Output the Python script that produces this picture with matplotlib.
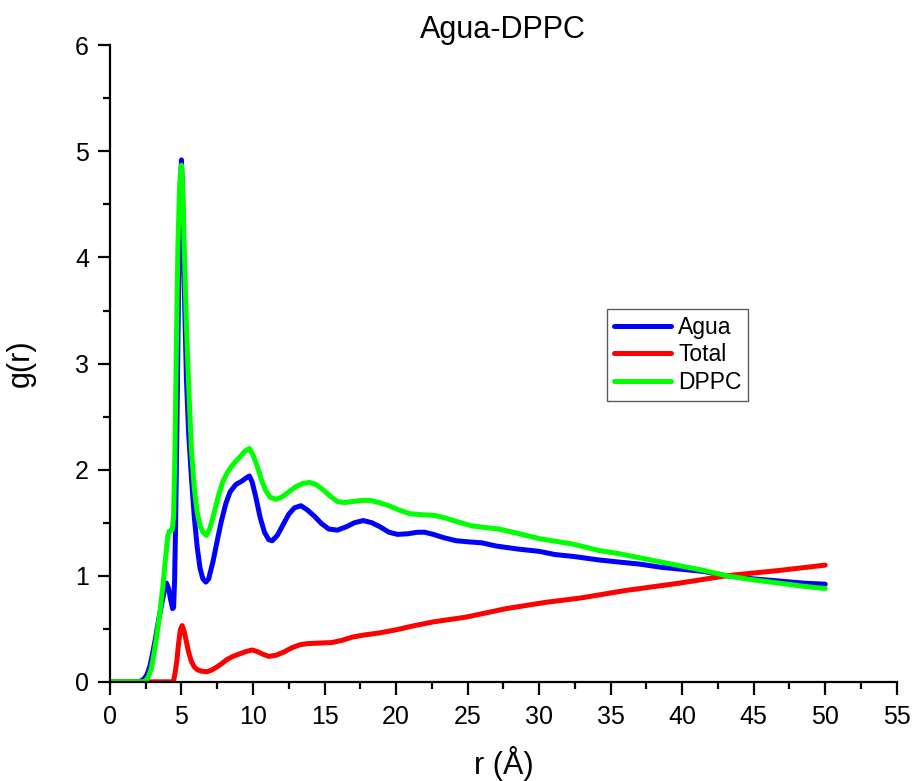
import numpy as np
import matplotlib
matplotlib.use("Agg")
import matplotlib.pyplot as plt
from matplotlib.ticker import MultipleLocator

plt.rcParams['font.family'] = ['Liberation Sans', 'DejaVu Sans']

# g(r) curves
r_agua = [0, 2.0, 2.2, 2.4, 2.6, 2.8, 3.0, 3.2, 3.4, 3.6, 3.8, 3.95, 4.1, 4.25, 4.38, 4.45,
          4.52, 4.6, 4.7, 4.8, 4.9, 5.0, 5.08, 5.2, 5.35, 5.5, 5.7, 5.9, 6.1, 6.3, 6.5, 6.7,
          6.9, 7.2, 7.5, 7.8, 8.1, 8.4, 8.8, 9.2, 9.5, 9.75, 9.95, 10.2, 10.5, 10.8, 11.1,
          11.35, 11.7, 12.1, 12.5, 12.9, 13.35, 13.8, 14.3, 14.8, 15.3, 15.9, 16.5, 17.1,
          17.7, 18.3, 18.9, 19.5, 20.1, 20.8, 21.5, 22.0, 22.6, 23.3, 24.2, 25.0, 26.0,
          27.0, 28.6, 30.0, 31.1, 32.5, 34.1, 35.5, 37.0, 38.5, 40.0, 41.5, 43.1, 45.0,
          46.8, 48.5, 50.0]
g_agua = [0, 0, 0.01, 0.03, 0.07, 0.15, 0.28, 0.42, 0.58, 0.72, 0.86, 0.93, 0.88, 0.77, 0.69, 0.70,
          0.95, 1.55, 2.6, 3.7, 4.55, 4.92, 4.6, 3.7, 2.85, 2.35, 1.92, 1.55, 1.27, 1.07, 0.97, 0.94,
          0.97, 1.13, 1.33, 1.52, 1.68, 1.79, 1.86, 1.89, 1.92, 1.94, 1.88, 1.74, 1.55, 1.41, 1.34,
          1.33, 1.38, 1.48, 1.58, 1.64, 1.66, 1.62, 1.56, 1.49, 1.44, 1.43, 1.46, 1.50,
          1.52, 1.50, 1.46, 1.41, 1.39, 1.395, 1.41, 1.41, 1.39, 1.36, 1.33, 1.32, 1.31,
          1.28, 1.25, 1.23, 1.20, 1.18, 1.15, 1.13, 1.11, 1.08, 1.06, 1.04, 1.00, 0.97,
          0.95, 0.93, 0.92]

r_total = [0, 4.44, 4.55, 4.67, 4.8, 4.92, 5.05, 5.18, 5.33, 5.5, 5.7, 5.9, 6.1, 6.4, 6.78,
           7.1, 7.48, 7.8, 8.18, 8.6, 9.0, 9.5, 9.93, 10.3, 10.7, 11.1, 11.6, 12.15, 12.7,
           13.3, 13.8, 14.6, 15.5, 16.2, 16.9, 17.7, 18.8, 20.0, 21.3, 22.6, 24.9, 27.7,
           30.5, 32.9, 36.0, 39.8, 43.1, 46.8, 50.0]
g_total = [0, 0, 0.08, 0.19, 0.36, 0.49, 0.53, 0.48, 0.39, 0.28, 0.19, 0.14, 0.115, 0.10, 0.095,
           0.11, 0.14, 0.17, 0.21, 0.24, 0.26, 0.285, 0.30, 0.285, 0.26, 0.24, 0.25, 0.28, 0.32,
           0.35, 0.36, 0.365, 0.37, 0.39, 0.42, 0.44, 0.46, 0.49, 0.53, 0.565, 0.61, 0.69,
           0.75, 0.79, 0.86, 0.93, 1.00, 1.05, 1.10]

r_dppc = [0, 2.3, 2.5, 2.7, 2.9, 3.1, 3.3, 3.5, 3.7, 3.9, 4.05, 4.15, 4.35, 4.45, 4.55, 4.65,
          4.75, 4.88, 5.0, 5.1, 5.2, 5.35, 5.5, 5.7, 5.9, 6.1, 6.3, 6.5, 6.75, 7.0, 7.3, 7.6,
          7.9, 8.2, 8.5, 8.8, 9.1, 9.4, 9.75, 10.0, 10.3, 10.6, 10.9, 11.2, 11.6, 12.0, 12.5,
          13.0, 13.5, 13.95, 14.4, 14.9, 15.4, 15.9, 16.4, 17.0, 17.6, 18.2, 18.8, 19.5,
          20.2, 20.95, 21.8, 22.6, 23.3, 24.0, 25.3, 26.2, 27.2, 28.5, 30.0, 32.3, 34.1,
          35.5, 37.0, 38.5, 39.8, 41.5, 43.1, 45.0, 46.8, 48.5, 50.0]
g_dppc = [0, 0, 0.01, 0.05, 0.13, 0.28, 0.46, 0.66, 0.90, 1.18, 1.38, 1.42, 1.43, 1.55, 2.2, 3.2,
          4.1, 4.7, 4.87, 4.6, 4.05, 3.35, 2.8, 2.18, 1.82, 1.60, 1.47, 1.41, 1.38, 1.45, 1.60, 1.76,
          1.89, 1.97, 2.03, 2.08, 2.12, 2.17, 2.20, 2.14, 2.03, 1.90, 1.80, 1.74, 1.72, 1.74, 1.79,
          1.84, 1.87, 1.88, 1.86, 1.81, 1.75, 1.70, 1.69, 1.70, 1.71, 1.71, 1.69, 1.66,
          1.62, 1.585, 1.575, 1.57, 1.55, 1.52, 1.47, 1.455, 1.44, 1.40, 1.35, 1.30, 1.24,
          1.21, 1.17, 1.13, 1.095, 1.05, 1.00, 0.96, 0.93, 0.90, 0.88]

fig = plt.figure(figsize=(9.16, 7.81), dpi=100)
ax = fig.add_axes([0.120, 0.127, 0.859, 0.815])

ax.plot(r_agua, g_agua, color='#0000ff', lw=3.6, label='Agua', solid_capstyle='round', solid_joinstyle='round')
ax.plot(r_total, g_total, color='#ff0000', lw=3.6, label='Total', solid_capstyle='round', solid_joinstyle='round')
ax.plot(r_dppc, g_dppc, color='#00ff00', lw=3.6, label='DPPC', solid_capstyle='round', solid_joinstyle='round')

ax.set_xlim(0, 55)
ax.set_ylim(0, 6)
ax.xaxis.set_major_locator(MultipleLocator(5))
ax.xaxis.set_minor_locator(MultipleLocator(2.5))
ax.yaxis.set_major_locator(MultipleLocator(1))
ax.yaxis.set_minor_locator(MultipleLocator(0.5))

for s in ['top', 'right']:
    ax.spines[s].set_visible(False)
for s in ['left', 'bottom']:
    ax.spines[s].set_linewidth(1.6)

ax.tick_params(which='major', direction='out', length=9, width=1.6, labelsize=18)
ax.tick_params(which='minor', direction='out', length=5, width=1.6)
ax.tick_params(axis='x', which='major', pad=8)
ax.tick_params(axis='y', which='major', pad=6)

ax.set_xlabel('r (Å)', fontsize=22, labelpad=12)
ax.set_ylabel('g(r)', fontsize=22, labelpad=28)
ax.set_title('Agua-DPPC', fontsize=22, pad=1)

leg = ax.legend(loc='upper left', bbox_to_anchor=(0.632, 0.586), fontsize=16.5,
                frameon=True, fancybox=False, edgecolor='#333333',
                handlelength=2.5, handletextpad=0.3, labelspacing=0.2,
                borderpad=0.3, borderaxespad=0)
leg.get_frame().set_linewidth(1.0)

fig.savefig('out.png', dpi=100)
